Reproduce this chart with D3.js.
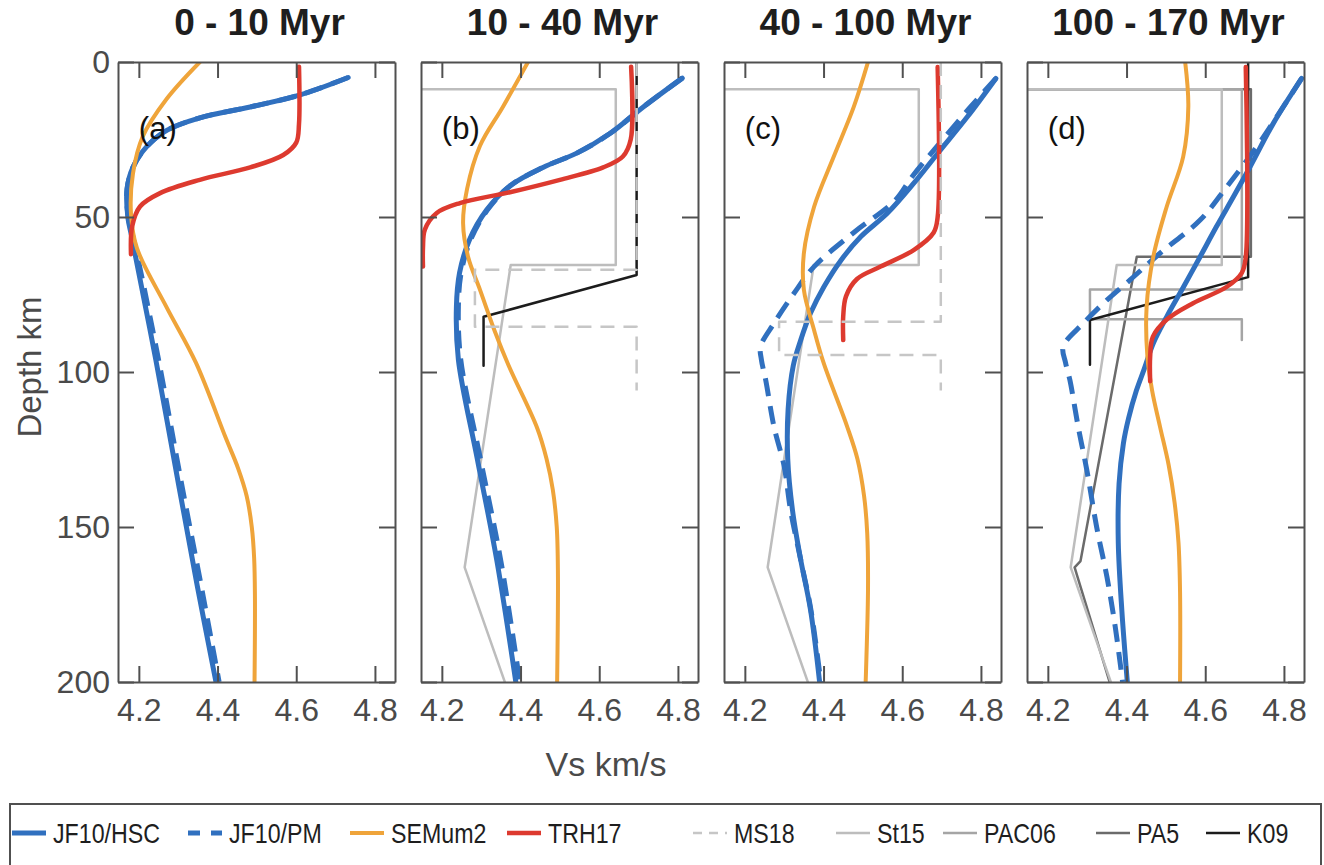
<!DOCTYPE html>
<html>
<head>
<meta charset="utf-8">
<script src="https://cdn.jsdelivr.net/npm/d3@7"></script>
<style>
  body { margin: 0; background: #fff; }
  svg { display: block; font-family: "Liberation Sans", Arial, Helvetica, sans-serif; }
</style>
</head>
<body>
<svg id="chart" width="1324" height="865"></svg>
<script>
// ---- Axis definitions ----
const panelTitles = ["0 - 10 Myr", "10 - 40 Myr", "40 - 100 Myr", "100 - 170 Myr"];
const panelTags = ["(a)", "(b)", "(c)", "(d)"];
const vsTicks = [4.2, 4.4, 4.6, 4.8];
const depthTicks = [0, 50, 100, 150, 200];
const vsDomain = [4.147, 4.851];
const depthDomain = [0, 200];

// ---- Profiles: [Vs km/s, depth km] ----
// Panel (a) 0 - 10 Myr
const hscA = [[4.732,5],[4.61,10.6],[4.483,14.5],[4.355,18],[4.272,22],[4.22,27.3],[4.185,34],[4.17,41],[4.172,50],[4.183,57],[4.192,63],[4.243,96],[4.302,137],[4.35,170],[4.396,200]];
const pmA  = [[4.732,5],[4.61,10.6],[4.483,14.5],[4.355,18],[4.272,22],[4.22,27.3],[4.185,34],[4.17,41],[4.173,50],[4.186,57],[4.197,63],[4.25,96],[4.31,137],[4.36,170],[4.404,200]];
const semA = [[4.355,0],[4.27,12],[4.21,24],[4.185,36],[4.18,49],[4.195,60],[4.27,79],[4.345,97],[4.42,121],[4.452,131],[4.474,140],[4.487,150],[4.493,160],[4.495,172],[4.494,200]];
const trhA = [[4.607,1.5],[4.607,20],[4.60,26],[4.567,30],[4.483,34],[4.355,38],[4.254,42.3],[4.203,46.6],[4.183,53],[4.18,62]];

// Panel (b) 10 - 40 Myr
const hscB = [[4.811,5.2],[4.712,14.5],[4.628,23],[4.543,29.4],[4.457,34],[4.373,40],[4.314,47.7],[4.27,57.4],[4.245,68],[4.237,79],[4.242,96],[4.29,128],[4.34,161],[4.388,200]];
const pmB  = [[4.811,5.2],[4.712,14.5],[4.628,23],[4.543,29.4],[4.457,34],[4.373,40],[4.316,47.7],[4.273,57.4],[4.249,68],[4.242,79],[4.248,96],[4.298,128],[4.35,161],[4.398,200]];
const semB = [[4.419,0],[4.355,14.5],[4.297,27],[4.264,41],[4.254,52],[4.267,63],[4.297,73.5],[4.335,87],[4.37,98],[4.442,118],[4.466,128],[4.482,138],[4.492,150],[4.495,165],[4.493,200]];
const trhB = [[4.681,1.5],[4.68,25],[4.66,30.5],[4.61,34],[4.5,38],[4.373,42],[4.246,45.5],[4.187,48.7],[4.157,54],[4.152,60],[4.152,66]];
const ms18B = [[4.695,0],[4.695,67],[4.284,67],[4.284,85.4],[4.695,85.4],[4.695,106]];
const k09B = [[4.695,0],[4.695,68.7],[4.306,82.2],[4.306,98]];

// Panel (c) 40 - 100 Myr
const hscC = [[4.838,5.3],[4.766,17.6],[4.69,29.5],[4.63,39],[4.562,48.8],[4.495,56.3],[4.444,64],[4.401,72.5],[4.367,81],[4.342,89.7],[4.323,98],[4.31,112],[4.309,128],[4.321,144.5],[4.342,160.6],[4.367,176.8],[4.39,200]];
const pmC  = [[4.838,5.3],[4.77,15],[4.69,27],[4.625,37],[4.583,44.5],[4.477,55],[4.376,66],[4.325,74.6],[4.274,84.3],[4.24,91.8],[4.242,96],[4.253,102.6],[4.274,117.6],[4.30,130.5],[4.316,144.5],[4.342,160.6],[4.368,176.8],[4.393,200]];
const semC = [[4.513,0],[4.477,14.4],[4.426,30.5],[4.376,46.7],[4.35,61.7],[4.35,73.5],[4.376,86.5],[4.40,97],[4.46,117.6],[4.486,128],[4.503,140],[4.511,152],[4.513,170],[4.507,200]];
const trhC = [[4.69,1.6],[4.69,50],[4.68,55],[4.63,60.6],[4.545,66],[4.485,70],[4.457,75.6],[4.45,82],[4.45,89.7]];
const ms18C = [[4.698,0],[4.698,83.8],[4.287,83.8],[4.287,94.5],[4.698,94.5],[4.698,106]];

// Panel (d) 100 - 170 Myr
const hscD = [[4.845,5.3],[4.773,19.8],[4.714,33.8],[4.672,43.4],[4.629,53],[4.587,62.8],[4.545,72.5],[4.502,82.2],[4.468,90.7],[4.445,99],[4.425,106],[4.405,115],[4.392,123],[4.381,136],[4.379,155],[4.388,176.8],[4.402,200]];
const pmD  = [[4.845,5.3],[4.78,18],[4.731,27.3],[4.655,40.2],[4.587,51],[4.485,61.7],[4.409,70.3],[4.35,76.8],[4.29,84.3],[4.239,91.8],[4.245,97],[4.256,102.6],[4.277,117.6],[4.299,131.6],[4.324,150],[4.35,166],[4.371,182],[4.39,200]];
const semD = [[4.549,0],[4.557,14.4],[4.544,30.5],[4.502,46.7],[4.468,62.8],[4.451,79],[4.453,95],[4.465,106],[4.485,117.6],[4.507,130],[4.522,142],[4.532,155],[4.536,171],[4.536,200]];
const trhD = [[4.703,1.6],[4.703,63],[4.693,68],[4.655,72.5],[4.569,77.8],[4.503,83],[4.467,88.6],[4.46,95],[4.46,103]];
const k09D = [[4.709,0],[4.709,69.4],[4.307,83.2],[4.307,97.7]];
const pa5D = [[3.7,0],[3.7,8.8],[4.716,8.8],[4.716,62.8],[4.426,62.8],[4.283,161],[4.268,163],[4.357,200]];
const pac06D = [[3.7,0],[3.7,8.8],[4.693,8.8],[4.693,73.4],[4.307,73.4],[4.307,83],[4.693,83],[4.693,89.7]];

// St15 reference profile (same for panels b-d)
const st15 = [[3.7,0],[3.7,8.8],[4.642,8.8],[4.642,65.5],[4.375,65.5],[4.258,163],[4.36,200]];

// Which profiles appear in each age panel
const panelSeries = [
  { hsc: hscA, pm: pmA, sem: semA, trh: trhA },
  { hsc: hscB, pm: pmB, sem: semB, trh: trhB, ms18: ms18B, st15: st15, k09: k09B },
  { hsc: hscC, pm: pmC, sem: semC, trh: trhC, ms18: ms18C, st15: st15 },
  { hsc: hscD, pm: pmD, sem: semD, trh: trhD, st15: st15, pac06: pac06D, pa5: pa5D, k09: k09D }
];

// ---- Styles ----
const models = {
  hsc:   { label: "JF10/HSC", color: "#3070bf", width: 5,   dash: null,    legendDash: null,    smooth: true },
  pm:    { label: "JF10/PM",  color: "#3070bf", width: 5,   dash: "18,10", legendDash: "12,11", smooth: true },
  sem:   { label: "SEMum2",   color: "#efa43a", width: 4,   dash: null,    legendDash: null,    smooth: true },
  trh:   { label: "TRH17",    color: "#dd3a2f", width: 4.5, dash: null,    legendDash: null,    smooth: true },
  ms18:  { label: "MS18",     color: "#c6c6c6", width: 2.5, dash: "14,9",  legendDash: "9,7",   smooth: false },
  st15:  { label: "St15",     color: "#bdbdbd", width: 2.5, dash: null,    legendDash: null,    smooth: false },
  pac06: { label: "PAC06",    color: "#a5a5a5", width: 2.5, dash: null,    legendDash: null,    smooth: false },
  pa5:   { label: "PA5",      color: "#6b6b6b", width: 2.5, dash: null,    legendDash: null,    smooth: false },
  k09:   { label: "K09",      color: "#1c1c1c", width: 2.5, dash: null,    legendDash: null,    smooth: false }
};
const legendOrder = ["hsc", "pm", "sem", "trh", "ms18", "st15", "pac06", "pa5", "k09"];
const drawOrder = ["pa5", "pac06", "st15", "k09", "pm", "hsc", "sem", "trh", "ms18"];

// ---- Layout ----
const plotTop = 62, plotH = 620, plotW = 277, firstLeft = 118, panelStep = 303;
const tickLen = 16;
const axisColor = "#505050";

const svg = d3.select("#chart");
const y = d3.scaleLinear().domain(depthDomain).range([plotTop, plotTop + plotH]);

panelSeries.forEach((series, i) => {
  const left = firstLeft + i * panelStep;
  const x = d3.scaleLinear().domain(vsDomain).range([left, left + plotW]);
  const g = svg.append("g");

  g.append("clipPath").attr("id", "clip" + i)
    .append("rect").attr("x", left).attr("y", plotTop).attr("width", plotW).attr("height", plotH);

  const plot = g.append("g").attr("clip-path", `url(#clip${i})`);

  drawOrder.forEach(key => {
    const data = series[key];
    if (!data) return;
    const m = models[key];
    const line = d3.line()
      .x(d => x(d[0]))
      .y(d => y(d[1]))
      .curve(m.smooth ? d3.curveCatmullRom.alpha(0.5) : d3.curveLinear);
    plot.append("path")
      .datum(data)
      .attr("d", line)
      .attr("fill", "none")
      .attr("stroke", m.color)
      .attr("stroke-width", m.width)
      .attr("stroke-dasharray", m.dash)
      .attr("stroke-linejoin", "round")
      .attr("stroke-linecap", m.dash ? "butt" : "round");
  });

  // Box with inward ticks on all four sides
  const axB = g.append("g").attr("transform", `translate(0,${plotTop + plotH})`)
    .call(d3.axisBottom(x).tickValues(vsTicks).tickSizeInner(-tickLen).tickSizeOuter(0)
      .tickPadding(16).tickFormat(d3.format(".1f")));
  const axT = g.append("g").attr("transform", `translate(0,${plotTop})`)
    .call(d3.axisTop(x).tickValues(vsTicks).tickSizeInner(-tickLen).tickSizeOuter(0).tickFormat(""));
  const axL = g.append("g").attr("transform", `translate(${left},0)`)
    .call(d3.axisLeft(y).tickValues(depthTicks).tickSizeInner(-tickLen).tickSizeOuter(0)
      .tickPadding(8).tickFormat(i === 0 ? d3.format("d") : ""));
  const axR = g.append("g").attr("transform", `translate(${left + plotW},0)`)
    .call(d3.axisRight(y).tickValues(depthTicks).tickSizeInner(-tickLen).tickSizeOuter(0).tickFormat(""));

  [axB, axT, axL, axR].forEach(a => {
    a.attr("color", axisColor);
    a.selectAll("path.domain").attr("stroke-width", 2);
    a.selectAll(".tick line").attr("stroke-width", 2);
    a.selectAll(".tick text").attr("font-size", 32).attr("fill", "#4a4a4a")
      .attr("font-family", "'Liberation Sans', Arial, sans-serif");
  });

  // Panel title
  g.append("text")
    .attr("x", left + plotW / 2 + 3)
    .attr("y", 35)
    .attr("text-anchor", "middle")
    .attr("font-size", 37)
    .attr("font-weight", "bold")
    .attr("fill", "#1e1e1e")
    .text(panelTitles[i]);

  // Panel tag
  g.append("text")
    .attr("x", x(4.2))
    .attr("y", 139)
    .attr("font-size", 31)
    .attr("fill", "#111")
    .text(panelTags[i]);
});

// Axis labels
svg.append("text")
  .attr("transform", `translate(41,${plotTop + plotH / 2 - 5}) rotate(-90)`)
  .attr("text-anchor", "middle")
  .attr("font-size", 33)
  .attr("fill", "#4a4a4a")
  .text("Depth km");

svg.append("text")
  .attr("x", 606)
  .attr("y", 776)
  .attr("text-anchor", "middle")
  .attr("font-size", 34)
  .attr("fill", "#4a4a4a")
  .text("Vs km/s");

// ---- Legend ----
const legendStarts = [12, 188, 350, 507, 693, 836, 943, 1096, 1206];
const legend = svg.append("g");
legend.append("rect")
  .attr("x", 10).attr("y", 804).attr("width", 1311).attr("height", 80)
  .attr("fill", "#fff").attr("stroke", axisColor).attr("stroke-width", 2);

legendOrder.forEach((key, k) => {
  const m = models[key];
  const sx = legendStarts[k];
  legend.append("line")
    .attr("x1", sx).attr("x2", sx + 34)
    .attr("y1", 833).attr("y2", 833)
    .attr("stroke", m.color)
    .attr("stroke-width", m.width)
    .attr("stroke-dasharray", m.legendDash);
  legend.append("text")
    .attr("transform", `translate(${sx + 41},843) scale(0.86,1)`)
    .attr("font-size", 27)
    .attr("fill", "#1e1e1e")
    .text(m.label);
});
</script>
</body>
</html>
